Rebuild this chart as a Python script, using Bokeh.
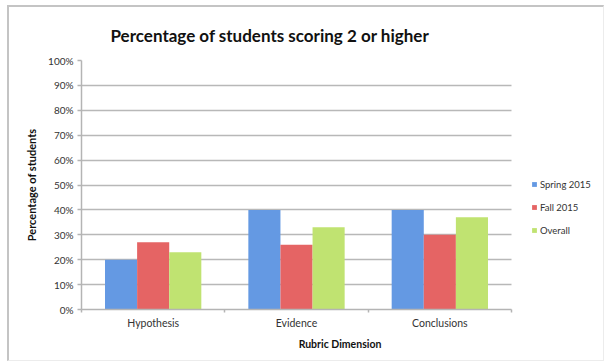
from bokeh.plotting import figure
from bokeh.models import (ColumnDataSource, Range1d, FixedTicker,
                          NumeralTickFormatter, Legend, LegendItem)
from bokeh.transform import dodge
from bokeh.embed import file_html
from bokeh.resources import INLINE

categories = ["Hypothesis", "Evidence", "Conclusions"]
series = ["Spring 2015", "Fall 2015", "Overall"]
spring_2015 = [0.20, 0.40, 0.40]
fall_2015 = [0.27, 0.26, 0.30]
overall = [0.23, 0.33, 0.37]
y_ticks = [0.0, 0.1, 0.2, 0.3, 0.4, 0.5, 0.6, 0.7, 0.8, 0.9, 1.0]

colors = ["#6499e3", "#e56464", "#c0e371"]
FONT = "Lato"

n = len(categories)
centers = [i + 0.5 for i in range(n)]
src = ColumnDataSource(dict(x=centers, cat=categories, s=spring_2015, f=fall_2015, o=overall))

# frame extends to the right to leave room for the legend (not clipped there)
p = figure(width=597, height=356, x_range=Range1d(0, n * 517 / 430),
           y_range=Range1d(0, 1), output_backend="svg", toolbar_location=None,
           min_border_left=72, min_border_top=53,
           min_border_right=8, min_border_bottom=54)
p.margin = (5, 0, 0, 7)
p.styles = {"border-top": "2px solid #c4c4c4", "border-left": "2px solid #c4c4c4",
            "border-right": "1px solid #ececec", "border-bottom": "1px solid #ececec"}
p.outline_line_color = None
p.background_fill_color = "white"
p.border_fill_color = "white"

p.title.text = "Percentage of students scoring 2 or higher"
p.title.text_font = FONT
p.title.text_font_size = "17px"
p.title.text_font_style = "bold"
p.title.text_color = "#111111"
p.title.align = "left"
p.title.offset = 29
p.title.standoff = 29

w = 0.224
rs = []
for col, off, c in zip(["s", "f", "o"], [-w, 0, w], colors):
    r = p.vbar(x=dodge("x", off), top=col, width=w, source=src,
               fill_color=c, line_color=None)
    rs.append(r)

# y axis
ya = p.yaxis[0]
ya.ticker = FixedTicker(ticks=y_ticks)
ya.formatter = NumeralTickFormatter(format="0%")
ya.axis_line_color = "#b4b4b4"
ya.axis_line_width = 1.5
ya.major_tick_line_color = "#b4b4b4"
ya.major_tick_line_width = 1.5
ya.major_tick_out = 4
ya.major_tick_in = 0
ya.minor_tick_line_color = None
ya.major_label_text_font = FONT
ya.major_label_text_font_size = "10px"
ya.major_label_text_color = "#333333"
ya.major_label_standoff = 4
ya.axis_label = "Percentage of students"
ya.axis_label_text_font = FONT
ya.axis_label_text_font_size = "11px"
ya.axis_label_text_font_style = "bold"
ya.axis_label_text_color = "#111111"
ya.axis_label_standoff = 7

p.ygrid.grid_line_color = "#b8b8b8"
p.ygrid.grid_line_width = 1.5
p.ygrid.cross_bounds = (0, n)
p.xgrid.grid_line_color = None

# x axis: labels at category centres, small ticks at category boundaries
xa = p.xaxis[0]
xa.bounds = (0, n)
xa.ticker = FixedTicker(ticks=centers, minor_ticks=list(range(n + 1)))
xa.major_label_overrides = {c: name for c, name in zip(centers, categories)}
xa.axis_line_color = "#b4b4b4"
xa.axis_line_width = 1.5
xa.major_tick_line_color = None
xa.major_tick_out = 3
xa.minor_tick_line_color = "#b4b4b4"
xa.minor_tick_line_width = 1.5
xa.minor_tick_out = 3
xa.minor_tick_in = 0
xa.major_label_text_font = FONT
xa.major_label_text_font_size = "10.5px"
xa.major_label_text_color = "#333333"
xa.major_label_standoff = 4
xa.axis_label = "Rubric Dimension"
xa.axis_label_text_font = FONT
xa.axis_label_text_font_size = "10.5px"
xa.axis_label_text_font_style = "bold"
xa.axis_label_text_color = "#111111"
xa.axis_label_standoff = 6

legend = Legend(items=[LegendItem(label=s, renderers=[r]) for s, r in zip(series, rs)],
                location=(450, 73), orientation="vertical")
legend.label_text_font = FONT
legend.label_text_font_size = "9.5px"
legend.label_text_color = "#333333"
legend.glyph_width = 6
legend.glyph_height = 6
legend.label_height = 12
legend.label_standoff = 3
legend.spacing = 11
legend.padding = 0
legend.margin = 0
legend.border_line_color = None
legend.background_fill_color = None
p.add_layout(legend)

open("out.html", "w").write(file_html(p, INLINE))
